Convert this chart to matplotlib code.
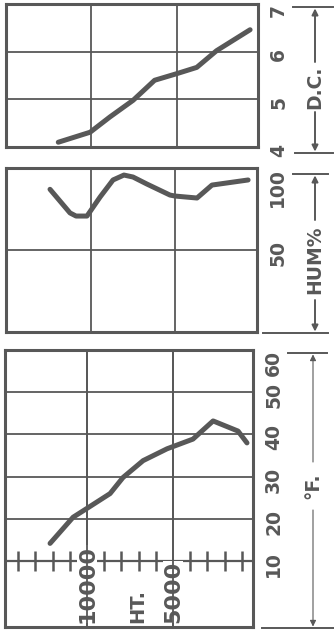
import matplotlib.pyplot as plt
import matplotlib.transforms as mtrans

# heights (ft) and readings
ht_dc = [11900, 10050, 8900, 7550, 6300, 5000, 3850, 2700, 750]
dc = [4.10, 4.31, 4.63, 4.98, 5.40, 5.54, 5.67, 6.02, 6.46]

ht_hum = [12440, 11250, 10890, 10240, 9460, 8690, 8040, 7500, 6670, 5300, 5000, 3690, 2800, 650]
hum = [87.0, 72.6, 70.7, 70.7, 82.3, 92.7, 95.7, 94.5, 90.2, 83.5, 82.9, 81.7, 89.6, 92.7]

ht_temp = [12150, 10810, 10000, 8660, 7910, 6740, 5350, 3840, 2670, 1220, 700]
temp = [14.2, 20.4, 22.5, 26.0, 29.8, 33.8, 36.6, 38.9, 43.2, 40.8, 38.0]

dc_ticks = [4, 5, 6, 7]
hum_ticks = [50, 100]
temp_ticks = [10, 20, 30, 40, 50, 60]
ht_minor = [1000, 2000, 3000, 4000, 6000, 7000, 8000, 9000, 11000, 12000, 13000, 14000]

INK = '#585858'
W, H = 334, 637

fig = plt.figure(figsize=(W / 100, H / 100), dpi=100)


def px_axes(l, t, r, b):
    return fig.add_axes([l / W, 1 - b / H, (r - l) / W, (b - t) / H])


def style(ax, yticks, ylim, xlim, hlines):
    ax.set_xlim(*xlim)
    ax.set_ylim(*ylim)
    for s in ax.spines.values():
        s.set_color(INK)
        s.set_linewidth(2.2)
    ax.set_xticks([])
    ax.set_yticks(yticks)
    ax.yaxis.tick_right()
    ax.tick_params(axis='y', length=0, pad=8, labelsize=13.5, labelcolor=INK)
    for lab in ax.get_yticklabels():
        lab.set_rotation(90)
        lab.set_va('center')
        lab.set_fontweight('bold')
        lab.set_transform(lab.get_transform() + mtrans.ScaledTranslation(0, -0.03, fig.dpi_scale_trans))
    labs = ax.get_yticklabels()
    labs[-1].set_va('top')
    labs[-1].set_transform(ax.get_yaxis_text2_transform(8)[0])
    for xv in (10000, 5000):
        ax.axvline(xv, color=INK, lw=1.3)
    for yv in hlines:
        ax.axhline(yv, color=INK, lw=1.3)


ax1 = px_axes(6, 4, 258, 147)
style(ax1, dc_ticks, (4, 7), (14940, 290), [5, 6])
ax1.plot(ht_dc, dc, color=INK, lw=3.6, solid_capstyle='round', solid_joinstyle='round')

ax2 = px_axes(6, 168, 257, 332)
style(ax2, hum_ticks, (0, 100), (15060, 120), [50])
ax2.plot(ht_hum, hum, color=INK, lw=3.6, solid_capstyle='round', solid_joinstyle='round')

ax3 = px_axes(5, 350, 253, 627)
style(ax3, temp_ticks, (-5.6, 60), (14770, 350), [20, 30, 40, 50])
ax3.axhline(10, color=INK, lw=1.6)
ax3.plot(ht_temp, temp, color=INK, lw=3.6, solid_capstyle='round', solid_joinstyle='round')
ax3.plot(ht_minor, [10] * len(ht_minor), ls='none', marker='|', ms=15, mew=1.8, color=INK)
bt = mtrans.blended_transform_factory(ax3.transData, ax3.transAxes)
ax3.text(10000, 0.015, '10000', transform=bt, rotation=90, ha='center', va='bottom',
         fontsize=16, fontweight='bold', color=INK, bbox=dict(fc='white', ec='none', pad=0))
ax3.text(5000, 0.015, '5000', transform=bt, rotation=90, ha='center', va='bottom',
         fontsize=16, fontweight='bold', color=INK, bbox=dict(fc='white', ec='none', pad=0))
ax3.text(7050, 0.015, 'HT.', transform=bt, rotation=90, ha='center', va='bottom',
         fontsize=14, fontweight='bold', color=INK)
ax3.plot([10000, 10000], [-5.6, 60], color=INK, lw=1.3, zorder=5)
ax3.plot([5000, 5000], [-5.6, 60], color=INK, lw=1.3, zorder=5)

# dimension marks on the right
ov = fig.add_axes([0, 0, 1, 1], facecolor='none')
ov.set_xlim(0, W)
ov.set_ylim(H, 0)
ov.axis('off')


def dim(x, top, bot, top_bar, bot_bar, gap, label, lw):
    ov.plot(top_bar, [top, top], color=INK, lw=1.4)
    ov.plot(bot_bar, [bot, bot], color=INK, lw=1.4)
    ov.annotate('', xy=(x, top), xytext=(x, gap[0]),
                arrowprops=dict(arrowstyle='-|>', color=INK, lw=lw, mutation_scale=9, shrinkA=0, shrinkB=1))
    ov.annotate('', xy=(x, bot), xytext=(x, gap[1]),
                arrowprops=dict(arrowstyle='-|>', color=INK, lw=lw, mutation_scale=9, shrinkA=0, shrinkB=1))
    ov.text(x, (gap[0] + gap[1]) / 2, label, rotation=90, ha='center', va='center',
            fontsize=13.5, fontweight='bold', color=INK)


dim(315, 7, 153, [293, 333], [295, 333], (62, 112), 'D.C.', 1.4)
dim(315, 174, 333, [293, 328], [263, 328], (220, 300), 'HUM%', 1.4)
dim(313, 353, 628, [288, 327], [262, 334], (462, 510), '°F.', 0.8)

fig.savefig('out.png', dpi=100)
